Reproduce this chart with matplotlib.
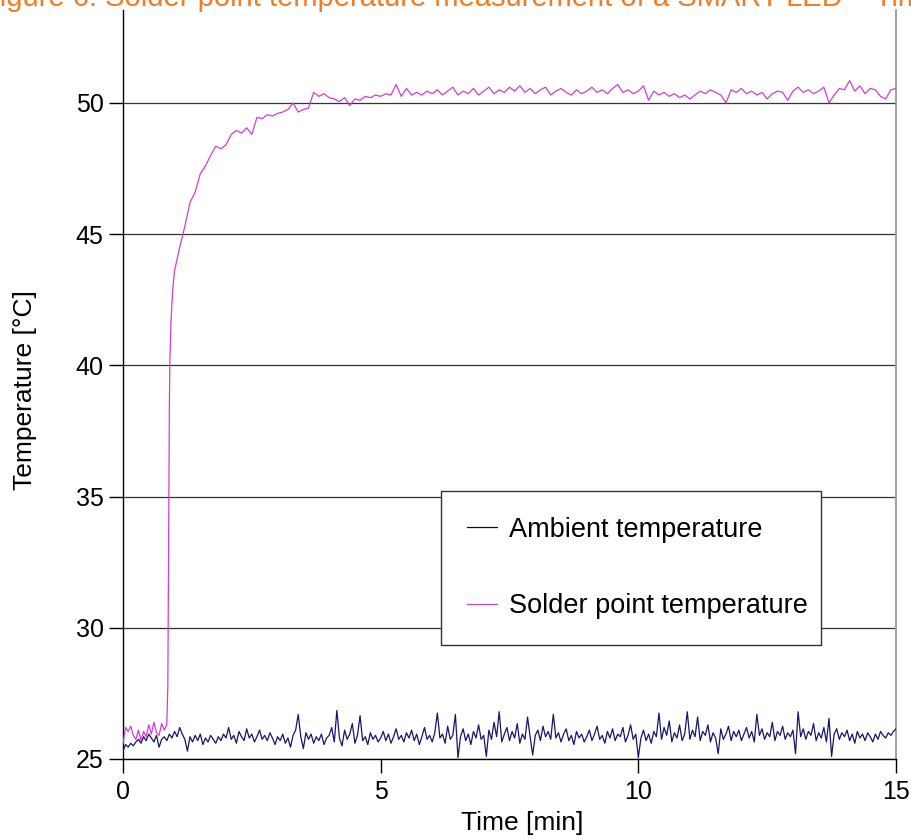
import numpy as np
import matplotlib
matplotlib.use("Agg")
import matplotlib.pyplot as plt

plt.rcParams['font.family'] = ['Liberation Sans', 'DejaVu Sans']

# ---------------- data ----------------
title_text = "Figure 6: Solder point temperature measurement of a SMART LED \u2013 Time dependence"
x_label = "Time [min]"
y_label = "Temperature [\u00b0C]"
series_names = ["Ambient temperature", "Solder point temperature"]
x_ticks = [0, 5, 10, 15]
y_ticks = [25, 30, 35, 40, 45, 50]

# ambient temperature, sampled every 0.05 min from 0 to 15 min
ambient_time = np.round(np.arange(0, 15.0001, 0.05), 2)
ambient = [
    25.30, 25.55, 25.45, 25.60, 25.50, 25.65, 25.75, 25.60, 25.85, 25.70, 25.95, 25.80, 25.65, 25.90, 25.45, 25.75, 25.85, 25.70, 25.95, 25.80,
    26.05, 25.85, 26.20, 25.95, 25.75, 25.30, 25.85, 25.65, 25.90, 25.70, 25.95, 25.55, 25.80, 25.65, 25.90, 25.75, 25.60, 25.85, 25.70, 25.95,
    25.80, 26.20, 25.75, 25.90, 25.60, 26.05, 25.85, 25.70, 26.15, 25.80, 25.95, 25.65, 25.85, 26.10, 25.75, 25.90, 25.70, 26.00, 25.80, 25.55,
    25.85, 25.70, 25.95, 25.60, 25.80, 25.45, 25.90, 26.10, 26.70, 25.85, 25.40, 26.00, 25.75, 25.95, 25.60, 25.85, 25.70, 25.95, 25.55, 25.80,
    25.90, 26.20, 25.65, 26.85, 25.80, 25.50, 26.10, 25.75, 25.95, 26.35, 25.60, 25.90, 26.65, 25.70, 25.85, 25.55, 26.00, 25.75, 25.90, 25.65,
    25.80, 26.05, 25.70, 25.95, 25.60, 25.85, 26.15, 25.75, 25.90, 25.65, 26.00, 25.80, 26.10, 25.70, 25.95, 25.55, 25.85, 26.20, 25.75, 25.90,
    25.65, 26.00, 26.75, 25.80, 25.95, 25.60, 26.25, 25.75, 25.90, 26.70, 25.05, 25.85, 26.15, 25.70, 25.95, 25.55, 26.05, 25.80, 26.30, 25.75,
    25.90, 25.10, 26.10, 25.75, 26.40, 25.85, 26.80, 25.65, 25.95, 26.20, 25.70, 26.05, 25.80, 26.35, 25.60, 25.95, 25.75, 26.60, 25.85, 25.15,
    25.90, 26.10, 25.70, 26.25, 25.85, 26.05, 25.75, 26.70, 25.80, 26.00, 25.65, 25.95, 26.15, 25.70, 25.90, 25.55, 26.05, 25.80, 25.95, 25.65,
    25.85, 26.10, 25.70, 25.95, 26.25, 25.75, 25.90, 25.60, 26.05, 25.80, 26.15, 25.70, 25.95, 25.85, 26.20, 25.65, 25.90, 26.30, 25.75, 25.95,
    25.05, 25.80, 26.10, 25.70, 25.95, 25.60, 26.05, 25.85, 26.75, 25.75, 26.20, 25.90, 26.45, 25.65, 26.00, 25.80, 26.30, 25.70, 25.95, 26.80,
    25.75, 26.10, 25.85, 26.60, 25.70, 26.05, 25.90, 26.30, 25.65, 26.00, 25.80, 25.20, 26.15, 25.75, 25.95, 26.25, 25.70, 26.05, 25.85, 26.10,
    25.70, 25.95, 26.20, 25.80, 26.05, 25.65, 26.70, 25.90, 26.15, 25.75, 26.00, 25.85, 26.40, 25.70, 26.05, 25.90, 26.25, 25.75, 26.00, 25.85,
    26.10, 25.20, 26.80, 25.85, 26.15, 25.75, 26.05, 25.90, 26.35, 25.70, 26.00, 25.80, 26.20, 25.65, 26.55, 25.10, 25.95, 26.15, 25.75, 26.00,
    25.85, 26.10, 25.70, 25.95, 25.60, 26.05, 25.80, 25.95, 25.70, 26.00, 25.85, 25.65, 25.95, 25.75, 26.05, 25.90, 25.80, 26.00, 25.90, 26.05,
    26.15,
]

# solder point temperature: before heating (every 0.05 min, 0 .. 0.85 min)
solder_pre_time = np.round(np.arange(0, 0.8501, 0.05), 2)
solder_pre = [25.60, 26.20, 26.05, 26.25, 25.90, 25.75, 26.10, 25.70, 26.05,
              25.85, 26.30, 25.95, 26.40, 26.00, 25.90, 26.35, 26.10, 26.30]
# steep rise
solder_rise_time = [0.87, 0.88, 0.89, 0.90, 0.91, 0.93, 0.95, 0.97]
solder_rise = [27.8, 31.5, 35.5, 38.5, 40.2, 41.6, 42.4, 43.0]
# approach to the plateau (every 0.1 min, 1.0 .. 15 min)
solder_post_time = np.round(np.arange(1.0, 15.0001, 0.1), 2)
solder_post = [
    43.6, 44.5, 45.3, 46.2, 46.6, 47.3, 47.6, 48.0, 48.35, 48.25,
    48.4, 48.8, 48.95, 48.85, 49.05, 48.8, 49.45, 49.4, 49.55, 49.5,
    49.6, 49.65, 49.75, 50.0, 49.65, 49.75, 49.8, 50.4, 50.25, 50.35,
    50.2, 50.15, 50.05, 50.2, 49.9, 50.15, 50.1, 50.25, 50.2, 50.3,
    50.25, 50.35, 50.3, 50.7, 50.25, 50.55, 50.3, 50.4, 50.3, 50.45,
    50.35, 50.5, 50.3, 50.45, 50.6, 50.3, 50.45, 50.35, 50.55, 50.3,
    50.45, 50.6, 50.35, 50.5, 50.4, 50.6, 50.45, 50.65, 50.4, 50.55,
    50.35, 50.5, 50.6, 50.3, 50.45, 50.55, 50.4, 50.3, 50.5, 50.35,
    50.45, 50.6, 50.4, 50.5, 50.35, 50.55, 50.7, 50.4, 50.5, 50.35,
    50.45, 50.65, 50.1, 50.45, 50.3, 50.4, 50.25, 50.35, 50.2, 50.3,
    50.15, 50.3, 50.45, 50.35, 50.5, 50.4, 50.3, 50.0, 50.5, 50.4,
    50.55, 50.35, 50.45, 50.3, 50.4, 50.15, 50.35, 50.45, 50.4, 50.1,
    50.45, 50.6, 50.4, 50.5, 50.35, 50.45, 50.6, 50.0, 50.3, 50.55,
    50.5, 50.85, 50.45, 50.65, 50.35, 50.55, 50.5, 50.25, 50.15, 50.5,
    50.55,
]
solder_time = np.concatenate([solder_pre_time, solder_rise_time, solder_post_time])
solder = np.concatenate([solder_pre, solder_rise, solder_post])

# ---------------- figure ----------------
W, H = 912, 839
fig = plt.figure(figsize=(W / 100, H / 100), dpi=100)
ax = fig.add_axes([123 / W, 1 - 759 / H, (896 - 123) / W, (759 - 10) / H])

ambient_color = '#16166e'
solder_color = '#d43cd4'

ax.plot(ambient_time, ambient, color=ambient_color, lw=0.9, zorder=3,
        label=series_names[0])
ax.plot(solder_time, solder, color=solder_color, lw=0.9, zorder=4,
        label=series_names[1])

ax.set_xlim(0, 15)
ax.set_ylim(25, 53.54)
ax.set_xticks(x_ticks)
ax.set_yticks(y_ticks)
ax.yaxis.grid(True, color='#333333', lw=0.9)
ax.set_axisbelow(True)

ax.spines['top'].set_visible(False)
ax.spines['right'].set_color('#9a9a9a')
ax.spines['right'].set_linewidth(1.3)
ax.spines['left'].set_color('black')
ax.spines['bottom'].set_color('black')
ax.spines['left'].set_linewidth(1.0)
ax.spines['bottom'].set_linewidth(1.0)

ax.tick_params(axis='both', direction='out', length=10, width=1,
               labelsize=18, colors='black')
ax.tick_params(axis='y', pad=4)
ax.tick_params(axis='x', pad=5)

ax.set_xlabel(x_label, fontsize=19, va='center')
ax.xaxis.set_label_coords(0.517, -0.0854)
ax.set_ylabel(y_label, fontsize=19, va='center')
ax.yaxis.set_label_coords(-0.127, 0.493)

leg = ax.legend(loc='upper left', bbox_to_anchor=(0.4114, 0.156, 0.4916, 0.202),
                mode='expand', borderaxespad=0, fontsize=19.5, frameon=True,
                fancybox=False, edgecolor='#333333', framealpha=1,
                borderpad=0.95, labelspacing=1.87, handlelength=1.1,
                handletextpad=0.45)
leg.get_frame().set_linewidth(1.0)
leg.legend_handles[0].set_color('#111111')
leg.legend_handles[1].set_color('#c24cc2')

fig.text(-17.7 / W, 1 - 6 / H, title_text, color='#F47B20', fontsize=21,
         ha='left', va='baseline')

fig.savefig('out.png', dpi=100)
